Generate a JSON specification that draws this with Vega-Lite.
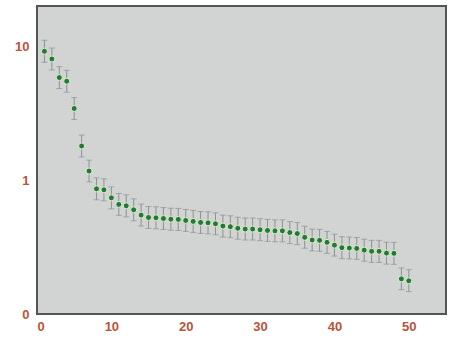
{
  "$schema": "https://vega.github.io/schema/vega-lite/v6.json",
  "autosize": "none",
  "width": 409,
  "height": 308,
  "padding": {"left": 37, "top": 6, "right": 7, "bottom": 26},
  "background": "white",
  "config": {
    "view": {"fill": "#d2d4d4", "stroke": "#555555", "strokeWidth": 2},
    "axis": {"grid": false, "domain": false, "labelFont": "Liberation Sans", "labelFontSize": 13, "labelColor": "#b9533a", "labelFontWeight": "bold", "ticks": false}
  },
  "data": {"values": [
    {"n": 1, "v": 9.18, "lo": 7.6, "hi": 11.1},
    {"n": 2, "v": 8.04, "lo": 6.66, "hi": 9.7},
    {"n": 3, "v": 5.84, "lo": 4.84, "hi": 7.05},
    {"n": 4, "v": 5.48, "lo": 4.54, "hi": 6.62},
    {"n": 5, "v": 3.43, "lo": 2.84, "hi": 4.14},
    {"n": 6, "v": 1.8, "lo": 1.49, "hi": 2.17},
    {"n": 7, "v": 1.17, "lo": 0.97, "hi": 1.41},
    {"n": 8, "v": 0.861, "lo": 0.713, "hi": 1.04},
    {"n": 9, "v": 0.847, "lo": 0.701, "hi": 1.023},
    {"n": 10, "v": 0.738, "lo": 0.611, "hi": 0.891},
    {"n": 11, "v": 0.659, "lo": 0.546, "hi": 0.796},
    {"n": 12, "v": 0.643, "lo": 0.532, "hi": 0.777},
    {"n": 13, "v": 0.6, "lo": 0.497, "hi": 0.725},
    {"n": 14, "v": 0.548, "lo": 0.454, "hi": 0.662},
    {"n": 15, "v": 0.526, "lo": 0.436, "hi": 0.635},
    {"n": 16, "v": 0.523, "lo": 0.433, "hi": 0.632},
    {"n": 17, "v": 0.517, "lo": 0.428, "hi": 0.624},
    {"n": 18, "v": 0.511, "lo": 0.423, "hi": 0.617},
    {"n": 19, "v": 0.509, "lo": 0.421, "hi": 0.615},
    {"n": 20, "v": 0.5, "lo": 0.414, "hi": 0.604},
    {"n": 21, "v": 0.492, "lo": 0.407, "hi": 0.594},
    {"n": 22, "v": 0.483, "lo": 0.4, "hi": 0.583},
    {"n": 23, "v": 0.48, "lo": 0.397, "hi": 0.58},
    {"n": 24, "v": 0.472, "lo": 0.391, "hi": 0.57},
    {"n": 25, "v": 0.454, "lo": 0.376, "hi": 0.548},
    {"n": 26, "v": 0.449, "lo": 0.372, "hi": 0.542},
    {"n": 27, "v": 0.437, "lo": 0.362, "hi": 0.528},
    {"n": 28, "v": 0.431, "lo": 0.357, "hi": 0.521},
    {"n": 29, "v": 0.431, "lo": 0.357, "hi": 0.521},
    {"n": 30, "v": 0.426, "lo": 0.353, "hi": 0.515},
    {"n": 31, "v": 0.421, "lo": 0.349, "hi": 0.509},
    {"n": 32, "v": 0.418, "lo": 0.346, "hi": 0.505},
    {"n": 33, "v": 0.418, "lo": 0.346, "hi": 0.505},
    {"n": 34, "v": 0.406, "lo": 0.336, "hi": 0.49},
    {"n": 35, "v": 0.399, "lo": 0.33, "hi": 0.482},
    {"n": 36, "v": 0.374, "lo": 0.31, "hi": 0.452},
    {"n": 37, "v": 0.357, "lo": 0.296, "hi": 0.431},
    {"n": 38, "v": 0.355, "lo": 0.294, "hi": 0.429},
    {"n": 39, "v": 0.343, "lo": 0.284, "hi": 0.414},
    {"n": 40, "v": 0.327, "lo": 0.271, "hi": 0.395},
    {"n": 41, "v": 0.313, "lo": 0.259, "hi": 0.378},
    {"n": 42, "v": 0.311, "lo": 0.258, "hi": 0.376},
    {"n": 43, "v": 0.309, "lo": 0.256, "hi": 0.373},
    {"n": 44, "v": 0.3, "lo": 0.248, "hi": 0.362},
    {"n": 45, "v": 0.294, "lo": 0.243, "hi": 0.355},
    {"n": 46, "v": 0.294, "lo": 0.243, "hi": 0.355},
    {"n": 47, "v": 0.285, "lo": 0.236, "hi": 0.344},
    {"n": 48, "v": 0.284, "lo": 0.235, "hi": 0.343},
    {"n": 49, "v": 0.183, "lo": 0.152, "hi": 0.221},
    {"n": 50, "v": 0.177, "lo": 0.147, "hi": 0.214}
  ]},
  "layer": [
    {
      "mark": {"type": "rule", "color": "#8a9292", "strokeWidth": 1},
      "encoding": {
        "x": {"field": "n", "type": "quantitative", "scale": {"domain": [0, 55], "nice": false, "zero": false}, "axis": {"values": [0, 10, 20, 30, 40, 50], "labelPadding": 6, "title": null}},
        "y": {"field": "lo", "type": "quantitative", "scale": {"type": "log", "domain": [0.1, 20], "nice": false}, "axis": {"values": [0.1, 1, 10], "labelExpr": "datum.value < 0.5 ? '0' : datum.label", "labelPadding": 8, "title": null}},
        "y2": {"field": "hi"}
      }
    },
    {
      "mark": {"type": "tick", "color": "#8a9292", "orient": "horizontal", "size": 6, "thickness": 1},
      "encoding": {
        "x": {"field": "n", "type": "quantitative"},
        "y": {"field": "lo", "type": "quantitative"}
      }
    },
    {
      "mark": {"type": "tick", "color": "#8a9292", "orient": "horizontal", "size": 6, "thickness": 1},
      "encoding": {
        "x": {"field": "n", "type": "quantitative"},
        "y": {"field": "hi", "type": "quantitative"}
      }
    },
    {
      "mark": {"type": "point", "filled": true, "fill": "#1d7a40", "stroke": "#e8ecc0", "strokeWidth": 1, "size": 36, "opacity": 1},
      "encoding": {
        "x": {"field": "n", "type": "quantitative"},
        "y": {"field": "v", "type": "quantitative"}
      }
    }
  ]
}
